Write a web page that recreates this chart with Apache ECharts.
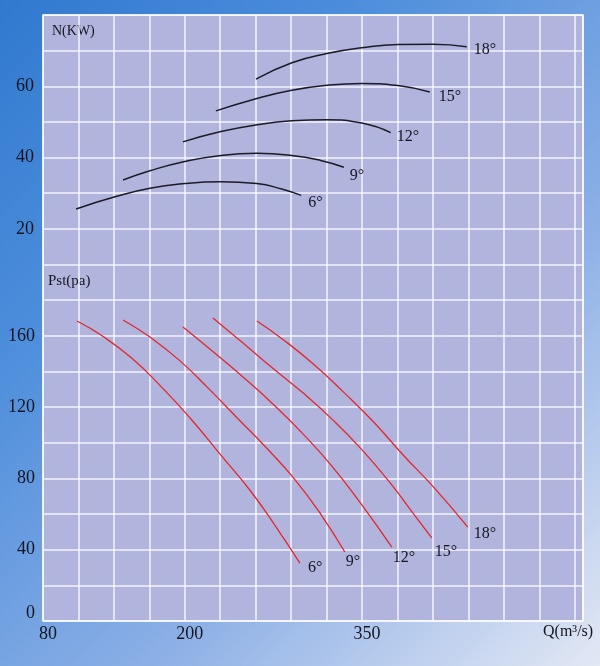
<!DOCTYPE html>
<html><head><meta charset="utf-8">
<script src="https://cdn.jsdelivr.net/npm/echarts@6/dist/echarts.min.js"></script>
<style>
html,body{margin:0;padding:0;width:600px;height:666px;overflow:hidden;}
body{background:linear-gradient(135deg,#3079cf 0%,#4f8fdc 30%,#8db0e6 65%,#e3e8f4 100%);}
#chart{width:600px;height:666px;}
</style></head><body><div id="chart"></div>
<script>
// ---- tick labels ----
const qTickLabels = [80, 200, 350];
const pstTickLabels = [0, 40, 80, 120, 160];
const nTickLabels = [20, 40, 60];
const angles = ['6°', '9°', '12°', '15°', '18°'];

// ---- power N (kW) vs Q ----
const nQ6  = [108, 141, 170.5, 200, 230.5, 261, 282, 298.5];
const nV6  = [25.6, 29.0, 31.4, 32.7, 33.2, 32.7, 31.2, 29.4];
const nQ9  = [147.7, 170.5, 200, 230.5, 261, 290.5, 315, 334.6];
const nV9  = [33.7, 36.3, 38.9, 40.6, 41.2, 40.6, 39.2, 37.3];
const nQ12 = [198.4, 230.6, 261, 290.6, 320.2, 349.8, 374.3];
const nV12 = [44.4, 47.3, 49.2, 50.3, 50.6, 49.7, 47.0];
const nQ15 = [226.3, 261, 290.6, 320.2, 349.8, 380.3, 407.3];
const nV15 = [53.1, 56.6, 58.9, 60.3, 60.8, 60.2, 58.4];
const nQ18 = [260.2, 290.6, 320.2, 349.8, 380.3, 409.9, 438.6];
const nV18 = [62.0, 66.6, 69.2, 70.8, 71.7, 71.8, 71.1];

// ---- static pressure Pst (pa) vs Q ----
const pQ6  = [108.8, 130, 155, 180, 205, 230, 255, 277, 297.4];
const pV6  = [168.3, 160.0, 147.5, 131.5, 113.5, 93.5, 73.5, 53.0, 32.5];
const pQ9  = [147.7, 170.5, 195, 220, 245, 270, 293, 315, 335.4];
const pV9  = [168.9, 159.3, 146.5, 130.5, 113.5, 96.5, 79.5, 60.0, 38.7];
const pQ12 = [198.4, 225, 250, 275, 300, 325, 350, 375.2];
const pV12 = [164.9, 150.5, 136.5, 121.5, 105.0, 86.5, 65.0, 41.5];
const pQ15 = [223.8, 250, 275, 300, 325, 350, 375, 392, 409];
const pV15 = [170.0, 155.5, 141.5, 128.0, 113.0, 96.0, 76.5, 61.5, 46.6];
const pQ18 = [261, 285, 310, 335, 360, 385, 410, 439.5];
const pV18 = [168.3, 157.0, 143.5, 128.0, 111.5, 93.0, 75.5, 52.7];

const nCurves = [[nQ6,nV6],[nQ9,nV9],[nQ12,nV12],[nQ15,nV15],[nQ18,nV18]];
const pCurves = [[pQ6,pV6],[pQ9,pV9],[pQ12,pV12],[pQ15,pV15],[pQ18,pV18]];

// label placement (style)
const nLabelOffsets = [[7,7],[6,9],[6,4],[9,5],[7,3]];
const pLabelOffsets = [[8,5],[1,10],[1,11],[3,14],[6,7]];

const FONT = '"Liberation Serif", "DejaVu Serif", serif';
const zip = (xs, ys) => xs.map((x, i) => [x, ys[i]]);

const series = [];
nCurves.forEach((c, i) => {
  series.push({
    type: 'line', yAxisIndex: 1, smooth: 0.5, symbol: 'none',
    data: zip(c[0], c[1]),
    lineStyle: { color: '#1b1b26', width: 1.5 },
    endLabel: { show: true, formatter: angles[i], distance: 0, offset: nLabelOffsets[i],
      fontFamily: FONT, fontSize: 16, color: '#15151f' },
    silent: true, animation: false
  });
});
pCurves.forEach((c, i) => {
  series.push({
    type: 'line', yAxisIndex: 0, smooth: 0.5, symbol: 'none',
    data: zip(c[0], c[1]),
    lineStyle: { color: '#e3262b', width: 1.3 },
    endLabel: { show: true, formatter: angles[i], distance: 0, offset: pLabelOffsets[i],
      fontFamily: FONT, fontSize: 16, color: '#15151f' },
    silent: true, animation: false
  });
});

const gridLine = { lineStyle: { color: 'rgba(255,255,255,0.85)', width: 1.5 } };

const option = {
  animation: false,
  grid: { left: 43, top: 15, right: 17, bottom: 45, show: true,
    backgroundColor: '#b1b5dd', borderColor: 'rgba(255,255,255,0.9)', borderWidth: 1.5 },
  xAxis: {
    type: 'value', min: 80, max: 537, interval: 30,
    axisLine: { show: false }, axisTick: { show: false },
    splitLine: gridLine,
    axisLabel: {
      formatter: v => qTickLabels.includes(v) ? String(v) : '',
      fontFamily: FONT, fontSize: 18, color: '#15151f', margin: 4, padding: [0, 0, 0, 10]
    }
  },
  yAxis: [
    {
      type: 'value', min: 0, max: 340, interval: 20,
      axisLine: { show: false }, axisTick: { show: false },
      splitLine: gridLine,
      axisLabel: {
        formatter: v => pstTickLabels.includes(v) ? (v === 0 ? '{z|0}' : String(v)) : '',
        fontFamily: FONT, fontSize: 18, color: '#15151f', margin: 8,
        rich: { z: { fontFamily: FONT, fontSize: 18, color: '#15151f', padding: [0, 0, 16, 0] } }
      }
    },
    {
      type: 'value', min: -90, max: 80, interval: 10, position: 'left',
      axisLine: { show: false }, axisTick: { show: false }, splitLine: { show: false },
      axisLabel: {
        formatter: v => nTickLabels.includes(v) ? String(v) : '',
        fontFamily: FONT, fontSize: 18, color: '#15151f', margin: 9
      }
    }
  ],
  graphic: [
    { type: 'text', left: 52, top: 24, style: { text: 'N(KW)', font: '14px ' + FONT, fill: '#15151f' } },
    { type: 'text', left: 48, top: 274, style: { text: 'Pst(pa)', font: '15px ' + FONT, fill: '#15151f' } },
    { type: 'text', left: 543, top: 624, style: { text: 'Q(m³/s)', font: '16px ' + FONT, fill: '#15151f' } }
  ],
  series: series
};

const chart = echarts.init(document.getElementById('chart'), null, { renderer: 'canvas' });
chart.setOption(option);
</script>
</body></html>
